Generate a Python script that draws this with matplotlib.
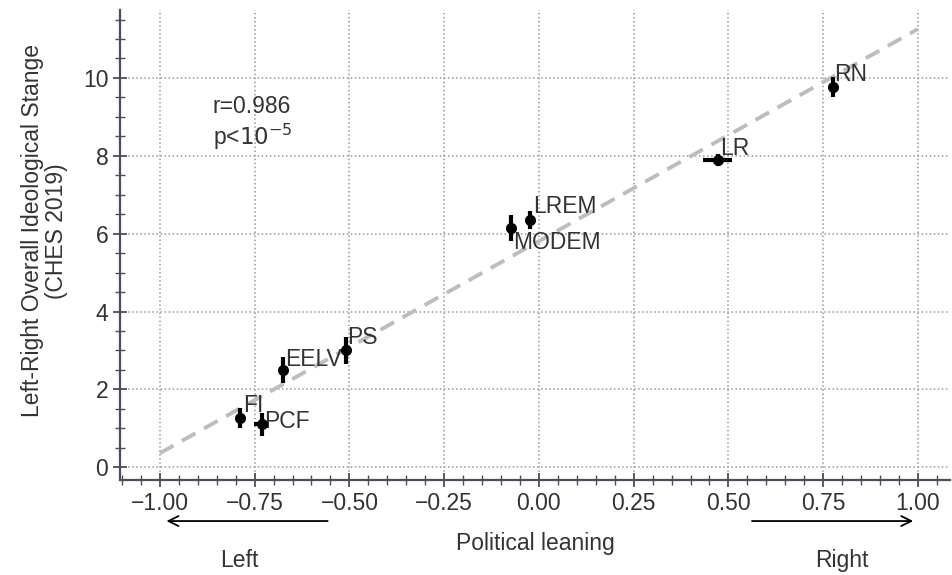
import numpy as np
import matplotlib.pyplot as plt

# party positions: political leaning (x) vs CHES 2019 left-right score (y)
parties = ['FI', 'PCF', 'EELV', 'PS', 'MODEM', 'LREM', 'LR', 'RN']
leaning = [-0.789, -0.731, -0.675, -0.509, -0.074, -0.024, 0.472, 0.776]
leaning_err = [0.0, 0.02, 0.0, 0.0, 0.0, 0.0, 0.038, 0.0]
ches = [1.26, 1.10, 2.49, 3.00, 6.14, 6.35, 7.89, 9.77]
ches_err = [0.25, 0.30, 0.33, 0.35, 0.33, 0.22, 0.15, 0.25]

# label offsets in pixels (dx, dy)
label_off = {'FI': (3, 6), 'PCF': (2, -4), 'EELV': (2, 4), 'PS': (1, 6),
             'MODEM': (2, -3), 'LREM': (3, 7), 'LR': (2, 5), 'RN': (1, 6)}

plt.rcParams['font.family'] = ['Liberation Sans', 'DejaVu Sans']
txt = '#333333'
spine_c = '#4a4f5c'
fs = 16.5

fig = plt.figure(figsize=(9.53, 5.75), dpi=100)
ax = fig.add_axes([0.126, 0.165, 0.871, 0.818])

# regression line
slope, icpt = np.polyfit(leaning, ches, 1)
xs = np.array([-1.0, 1.0])
ax.plot(xs, slope * xs + icpt, ls=(0, (4, 2.5)), color='#bdbdbd', lw=2.8, zorder=2)

ax.errorbar(leaning, ches, xerr=leaning_err, yerr=ches_err, fmt='o', color='black',
            ms=7, elinewidth=3, capsize=0, zorder=3)

for p, x, y in zip(parties, leaning, ches):
    dx, dy = label_off[p]
    ax.annotate(p, (x, y), xytext=(dx, dy), textcoords='offset pixels',
                ha='left', va='top' if p == 'MODEM' else 'baseline',
                fontsize=fs, color=txt)

ax.text(-0.86, 9.1, 'r=0.986', fontsize=fs, color=txt, va='baseline')
ax.text(-0.86, 8.28, r'p<$10^{-5}$', fontsize=fs, color=txt, va='baseline')

ax.set_xlim(-1.105, 1.085)
ax.set_ylim(-0.33, 11.75)
ax.set_xticks(np.arange(-1.0, 1.01, 0.25))
ax.set_xticks(np.arange(-1.1, 1.09, 0.05), minor=True)
ax.set_yticks(np.arange(0, 11, 2))
ax.set_yticks(np.arange(0, 11.6, 0.5), minor=True)
ax.xaxis.set_major_formatter(plt.FuncFormatter(lambda v, pos: f'{v:.2f}'.replace('-', '\u2212')))
ax.grid(True, which='major', ls=':', color='#999999', lw=1.1)
ax.set_axisbelow(True)

for s in ['top', 'right']:
    ax.spines[s].set_visible(False)
for s in ['left', 'bottom']:
    ax.spines[s].set_color(spine_c)
    ax.spines[s].set_linewidth(1.6)
ax.tick_params(which='major', direction='inout', length=10, width=1.3, color=spine_c,
               labelsize=fs, labelcolor=txt)
ax.tick_params(which='minor', direction='inout', length=7, width=1.0, color=spine_c)

ax.set_xlabel('Political leaning', fontsize=fs, color=txt, labelpad=12)
ax.set_ylabel('Left-Right Overall Ideological Stange\n(CHES 2019)', fontsize=fs,
              color=txt, linespacing=1.05)
ax.yaxis.set_label_coords(-0.063, 0.53)

# direction arrows under the x axis
tr = ax.get_xaxis_transform()
ax.annotate('', xy=(-0.99, -0.087), xytext=(-0.55, -0.087), xycoords=tr, textcoords=tr,
            arrowprops=dict(arrowstyle='->', color='black', lw=1.3, mutation_scale=18))
ax.annotate('', xy=(0.995, -0.087), xytext=(0.555, -0.087), xycoords=tr, textcoords=tr,
            arrowprops=dict(arrowstyle='->', color='black', lw=1.3, mutation_scale=18))
ax.text(-0.79, -0.17, 'Left', transform=tr, ha='center', va='center', fontsize=fs, color=txt)
ax.text(0.80, -0.17, 'Right', transform=tr, ha='center', va='center', fontsize=fs, color=txt)

fig.savefig('out.png', dpi=100)
